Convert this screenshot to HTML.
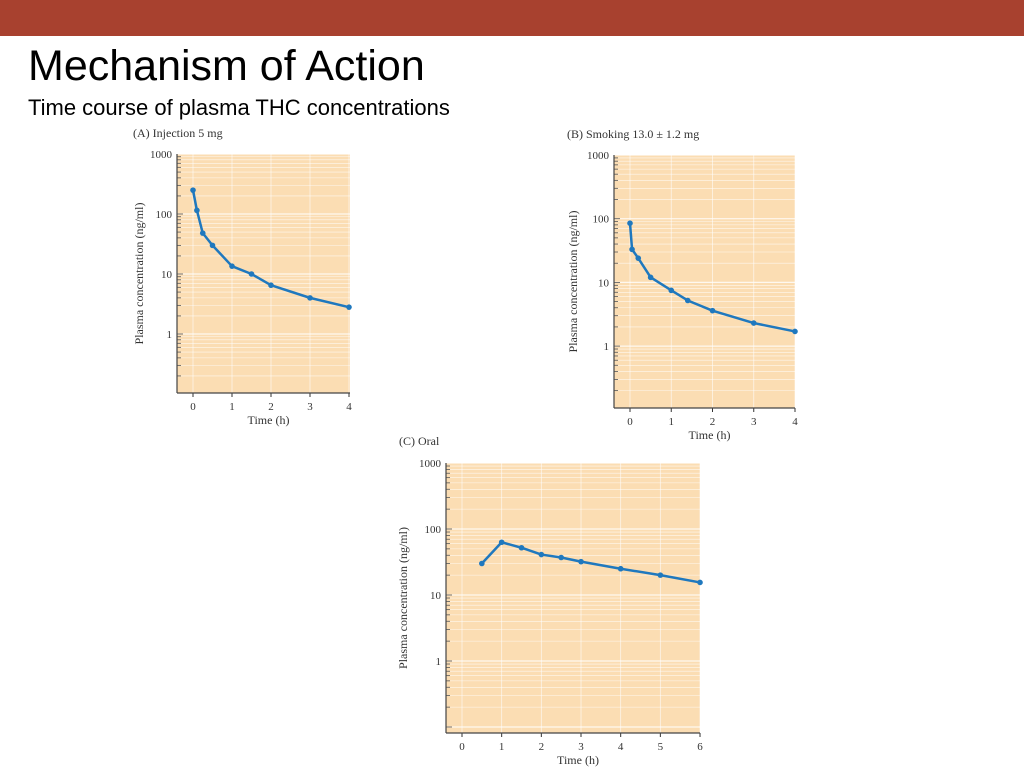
<!DOCTYPE html>
<html><head><meta charset="utf-8"><style>
body{margin:0;width:1024px;height:768px;background:#fff;position:relative;overflow:hidden;font-family:"Liberation Sans",sans-serif}
#bar{position:absolute;left:0;top:0;width:1024px;height:36px;background:#A8412F}
#title{position:absolute;left:28px;top:42px;font-size:43px;color:#000}
#sub{position:absolute;left:28px;top:95px;font-size:22px;color:#000}
svg{position:absolute;left:0;top:0}
</style></head><body>
<div id="bar"></div>
<div id="title">Mechanism of Action</div>
<div id="sub">Time course of plasma THC concentrations</div>
<svg id="svg" width="1024" height="768" font-family="Liberation Serif, serif"></svg>
<script>
const injTimes=[0,0.1,0.25,0.5,1,1.5,2,3,4];
const injVals=[250,115,48,30,13.5,10,6.5,4,2.8];
const smkTimes=[0,0.05,0.2,0.5,1,1.4,2,3,4];
const smkVals=[85,33,24,12,7.5,5.2,3.6,2.3,1.7];
const oralTimes=[0.5,1,1.5,2,2.5,3,4,5,6];
const oralVals=[30,63,52,41,37,32,25,20,15.5];
const yTickLabels=["1000","100","10","1"];
const NS="http://www.w3.org/2000/svg";
const svg=document.getElementById('svg');
function mk(tag,attrs,parent){const e=document.createElementNS(NS,tag);for(const k in attrs)e.setAttribute(k,attrs[k]);(parent||svg).appendChild(e);return e;}
function chart(o,times,vals,name){
  const g=mk('g',{});
  
  
  const X=t=>o.x0+t*o.xs;
  const Y=v=>o.y1000+(3-Math.log10(v))*o.dec;
  const bg=mk('rect',{x:o.left,y:o.top,width:o.right-o.left,height:o.bottom-o.top,fill:'#FBDDB3'},g);
  
  
  // horizontal minor grid
  for(let d=-1;d<3;d++){for(let m=1;m<10;m++){const v=Math.pow(10,d)*m;const y=Y(v);if(y<o.top||y>o.bottom)continue;
    mk('line',{x1:o.left,x2:o.right,y1:y,y2:y,stroke:'#fff','stroke-width':m==1?1.2:0.6,opacity:0.8},g);
    mk('line',{x1:o.left,x2:o.left+(m==1?6:4),y1:y,y2:y,stroke:'#555','stroke-width':0.8},g);}}
  mk('line',{x1:o.left,x2:o.right,y1:Y(1000),y2:Y(1000),stroke:'#fff','stroke-width':1},g);
  for(let t=0;t<=o.xmax;t++){const x=X(t);mk('line',{x1:x,x2:x,y1:o.top,y2:o.bottom,stroke:'#fff','stroke-width':0.8,opacity:0.7},g);
    mk('line',{x1:x,x2:x,y1:o.bottom,y2:o.bottom+4,stroke:'#333','stroke-width':1},g);
    const tl=mk('text',{x:x,y:o.bottom+17,'font-size':11,'text-anchor':'middle',fill:'#333'},g);tl.textContent=t;
    
    }
  mk('line',{x1:o.left,x2:o.left,y1:o.top,y2:o.bottom,stroke:'#444','stroke-width':1.2},g);
  mk('line',{x1:o.left,x2:o.right,y1:o.bottom,y2:o.bottom,stroke:'#444','stroke-width':1.2},g);
  yTickLabels.forEach(s=>{const t=mk('text',{x:o.left-5,y:Y(+s)+4,'font-size':11,'text-anchor':'end',fill:'#333'},g);t.textContent=s;
    
    });
  const xt=mk('text',{x:(o.left+o.right)/2+5,y:o.bottom+31,'font-size':12,'text-anchor':'middle',fill:'#333'},g);xt.textContent='Time (h)';
  
  
  const cy=(o.top+o.bottom)/2;
  const yt=mk('text',{x:o.ytx,y:cy,'font-size':12,'text-anchor':'middle',fill:'#333',transform:`rotate(-90 ${o.ytx} ${cy})`},g);yt.textContent='Plasma concentration (ng/ml)';
  
  
  const ti=mk('text',{x:o.tx,y:o.ty,'font-size':12,fill:'#333'},g);ti.textContent=o.title;
  
  
  const pts=times.map((t,i)=>X(t)+','+Y(vals[i])).join(' ');
  const pl=mk('polyline',{points:pts,fill:'none',stroke:'#1F78BE','stroke-width':2.5,'stroke-linejoin':'round'},g);
  
  
  times.forEach((t,i)=>{const c=mk('circle',{cx:X(t),cy:Y(vals[i]),r:2.8,fill:'#1F78BE'},g);
    
    });
}
chart({left:177,right:350,top:154,bottom:393,x0:193,xs:39,xmax:4,y1000:154,dec:60,ytx:143,tx:133,ty:137,title:'(A)  Injection 5 mg'},injTimes,injVals,'chart-injection');
chart({left:614,right:795,top:155,bottom:408,x0:630,xs:41.25,xmax:4,y1000:155,dec:63.7,ytx:577,tx:567,ty:138,title:'(B)  Smoking 13.0 ± 1.2 mg'},smkTimes,smkVals,'chart-smoking');
chart({left:446,right:700,top:463,bottom:733,x0:462,xs:39.67,xmax:6,y1000:463,dec:66,ytx:407,tx:399,ty:445,title:'(C)  Oral'},oralTimes,oralVals,'chart-oral');
</script>
</body></html>
